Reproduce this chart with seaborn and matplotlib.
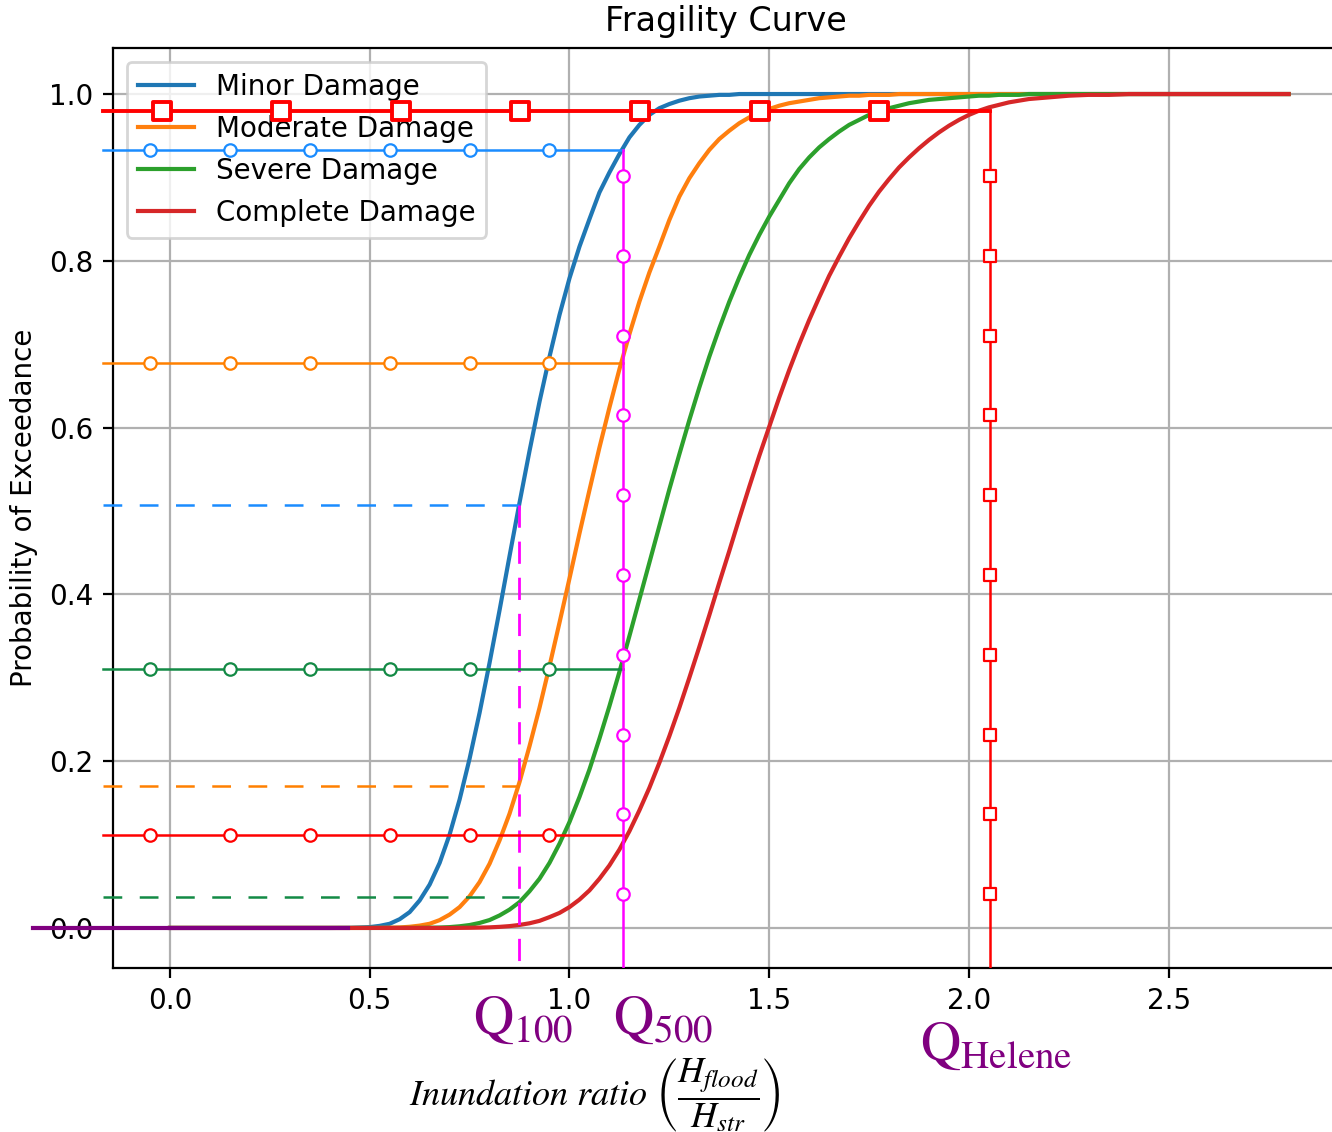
import matplotlib
matplotlib.use("Agg")
import matplotlib.pyplot as plt
import seaborn as sns

# fragility curves (probability of exceedance)

ratio = [0.0, 0.40, 0.45,
         0.500, 0.525, 0.550, 0.575, 0.600, 0.625, 0.650, 0.675, 0.700, 0.725,
         0.750, 0.775, 0.800, 0.825, 0.850, 0.875, 0.900, 0.925, 0.950, 0.975,
         1.000, 1.025, 1.050, 1.075, 1.100, 1.125, 1.150, 1.175, 1.200, 1.225,
         1.250, 1.275, 1.300, 1.325, 1.350, 1.375, 1.400, 1.425, 1.450, 1.475,
         1.500, 1.525, 1.550, 1.575, 1.600, 1.625, 1.650, 1.675, 1.700, 1.725,
         1.750, 1.775, 1.800, 1.825, 1.850, 1.875, 1.900, 1.925, 1.950, 1.975,
         2.000, 2.025, 2.050, 2.075, 2.100, 2.125, 2.150, 2.175, 2.200, 2.225,
         2.250, 2.30, 2.35, 2.40, 2.50, 2.60, 2.80]

minor = [0.0, 0.0, 0.0001,
         0.001, 0.0025, 0.005, 0.0105, 0.019, 0.033, 0.052, 0.078, 0.112, 0.154,
         0.203, 0.258, 0.318, 0.381, 0.446, 0.510, 0.572, 0.631, 0.685, 0.735,
         0.779, 0.817, 0.850, 0.882, 0.906, 0.928, 0.948, 0.963, 0.975, 0.983,
         0.988, 0.992, 0.995, 0.997, 0.998, 0.999, 0.999, 1.0, 1.0, 1.0,
         1.0, 1.0, 1.0, 1.0, 1.0, 1.0, 1.0, 1.0, 1.0, 1.0,
         1.0, 1.0, 1.0, 1.0, 1.0, 1.0, 1.0, 1.0, 1.0, 1.0,
         1.0, 1.0, 1.0, 1.0, 1.0, 1.0, 1.0, 1.0, 1.0, 1.0,
         1.0, 1.0, 1.0, 1.0, 1.0, 1.0, 1.0]

moderate = [0.0, 0.0, 0.0,
            0.0, 0.0001, 0.0003, 0.0006, 0.0014, 0.0028, 0.005, 0.0094, 0.016, 0.025,
            0.038, 0.055, 0.077, 0.105, 0.137, 0.175, 0.218, 0.264, 0.314, 0.366,
            0.419, 0.473, 0.525, 0.576, 0.624, 0.670, 0.712, 0.751, 0.786, 0.817,
            0.849, 0.877, 0.899, 0.917, 0.933, 0.946, 0.956, 0.965, 0.972, 0.978,
            0.982, 0.986, 0.989, 0.991, 0.993, 0.995, 0.996, 0.997, 0.998, 0.998,
            0.999, 0.999, 0.999, 1.0, 1.0, 1.0, 1.0, 1.0, 1.0, 1.0,
            1.0, 1.0, 1.0, 1.0, 1.0, 1.0, 1.0, 1.0, 1.0, 1.0,
            1.0, 1.0, 1.0, 1.0, 1.0, 1.0, 1.0]

severe = [0.0, 0.0, 0.0,
          0.0, 0.0, 0.0, 0.0, 0.0, 0.0001, 0.0003, 0.0005, 0.001, 0.002,
          0.0035, 0.006, 0.0095, 0.015, 0.022, 0.031, 0.044, 0.059, 0.078, 0.101,
          0.127, 0.157, 0.190, 0.227, 0.266, 0.307, 0.350, 0.394, 0.438, 0.482,
          0.526, 0.568, 0.609, 0.648, 0.685, 0.719, 0.751, 0.780, 0.807, 0.831,
          0.853, 0.873, 0.893, 0.910, 0.924, 0.936, 0.946, 0.955, 0.963, 0.969,
          0.975, 0.979, 0.983, 0.986, 0.989, 0.991, 0.993, 0.994, 0.995, 0.996,
          0.997, 0.998, 0.998, 0.999, 0.999, 0.999, 1.0, 1.0, 1.0, 1.0,
          1.0, 1.0, 1.0, 1.0, 1.0, 1.0, 1.0]

complete = [0.0, 0.0, 0.0,
            0.0, 0.0, 0.0, 0.0, 0.0, 0.0, 0.0, 0.0, 0.0, 0.0001,
            0.0002, 0.0004, 0.0007, 0.0013, 0.0022, 0.0036, 0.0056, 0.0085, 0.013, 0.018,
            0.025, 0.034, 0.045, 0.059, 0.075, 0.094, 0.116, 0.141, 0.168, 0.198,
            0.230, 0.264, 0.300, 0.337, 0.375, 0.414, 0.452, 0.491, 0.529, 0.566,
            0.601, 0.636, 0.669, 0.700, 0.729, 0.756, 0.782, 0.805, 0.827, 0.847,
            0.866, 0.883, 0.898, 0.912, 0.924, 0.935, 0.945, 0.954, 0.962, 0.969,
            0.975, 0.980, 0.984, 0.987, 0.990, 0.992, 0.994, 0.995, 0.996, 0.997,
            0.998, 0.999, 0.999, 1.0, 1.0, 1.0, 1.0]

states = ["Minor Damage", "Moderate Damage", "Severe Damage", "Complete Damage"]
curve_colors = ["#1f77b4", "#ff7f0e", "#2ca02c", "#d62728"]

# flood scenarios and the probabilities they give

q100 = 0.874
q500 = 1.134
q_helene = 2.053

p_q100 = [0.507, 0.170, 0.037]          # minor, moderate, severe
p_q500 = [0.933, 0.677, 0.311, 0.112]   # minor, moderate, severe, complete
p_helene = 0.980                        # complete

guide_colors = ["#1a8cff", "#ff8000", "#138a45", "#ff0000"]
circle_x = [-0.05, 0.15, 0.35, 0.55, 0.75, 0.95]
square_x = [-0.02, 0.278, 0.578, 0.876, 1.176, 1.477, 1.775]
vert_marks_y = [0.902, 0.806, 0.710, 0.615, 0.519, 0.423, 0.327, 0.231, 0.137, 0.041]

x_start = -0.168
y_floor = -0.048

plt.rcParams["mathtext.fontset"] = "stix"

fig = plt.figure(figsize=(6.66, 5.66), dpi=200)
ax = fig.add_axes([0.0848, 0.1449, 0.9204, 0.8127])

# fragility curves

for vals, name, col in zip([minor, moderate, severe, complete], states, curve_colors):
    sns.lineplot(x=ratio, y=vals, ax=ax, color=col, lw=1.5, label=name, zorder=3)

# purple baseline at zero
sns.lineplot(x=[-0.343, 0.446], y=[0.0, 0.0], ax=ax, color="#800080", lw=1.5,
             clip_on=False, zorder=6)

# dashed guides for Q100
for p, col in zip(p_q100, guide_colors[:3]):
    sns.lineplot(x=[x_start, q100], y=[p, p], ax=ax, color=col, lw=0.9,
                 linestyle=(0, (7.5, 7)), clip_on=False, zorder=6)
sns.lineplot(x=[q100, q100], y=[p_q100[0], y_floor], ax=ax, color="#ff00ff", lw=1.0,
             linestyle=(0, (8, 5)), estimator=None, sort=False, zorder=6)

# circle guides for Q500
for p, col in zip(p_q500, guide_colors):
    sns.lineplot(x=[x_start, q500], y=[p, p], ax=ax, color=col, lw=0.9,
                 clip_on=False, zorder=6)
    sns.scatterplot(x=circle_x, y=[p] * len(circle_x), ax=ax, marker="o", s=20,
                    facecolor="white", edgecolor=col, linewidth=0.8, zorder=7, clip_on=False)
sns.lineplot(x=[q500, q500], y=[p_q500[0], y_floor], ax=ax, color="#ff00ff", lw=0.9,
             estimator=None, sort=False, zorder=6)
sns.scatterplot(x=[q500] * len(vert_marks_y), y=vert_marks_y, ax=ax, marker="o", s=20,
                facecolor="white", edgecolor="#ff00ff", linewidth=0.8, zorder=7)

# square guides for Helene
sns.lineplot(x=[x_start, q_helene], y=[p_helene, p_helene], ax=ax, color="#ff0000", lw=1.4,
             clip_on=False, zorder=6)
sns.scatterplot(x=square_x, y=[p_helene] * len(square_x), ax=ax, marker="s", s=46,
                facecolor="white", edgecolor="#ff0000", linewidth=1.4, zorder=7, clip_on=False)
sns.lineplot(x=[q_helene, q_helene], y=[p_helene, y_floor], ax=ax, color="#ff0000", lw=0.9,
             estimator=None, sort=False, zorder=6)
sns.scatterplot(x=[q_helene] * len(vert_marks_y), y=vert_marks_y, ax=ax, marker="s", s=16,
                facecolor="white", edgecolor="#ff0000", linewidth=0.8, zorder=7)

ax.set_xlim(-0.1427, 2.926)
ax.set_ylim(-0.048, 1.0552)
ax.set_xticks([0.0, 0.5, 1.0, 1.5, 2.0, 2.5])
ax.set_yticks([0.0, 0.2, 0.4, 0.6, 0.8, 1.0])
ax.grid(True)
ax.set_axisbelow(True)
ax.set_title("Fragility Curve")
ax.set_ylabel("Probability of Exceedance")
ax.set_xlabel("")
ax.legend(loc="upper left")

# scenario labels under the axis
xt = ax.get_xaxis_transform()
ax.text(0.884, -0.073, r"$\mathrm{Q}_{\mathrm{100}}$", transform=xt, ha="center",
        va="baseline", fontsize=20, color="#800080")
ax.text(1.234, -0.073, r"$\mathrm{Q}_{\mathrm{500}}$", transform=xt, ha="center",
        va="baseline", fontsize=20, color="#800080")
ax.text(2.068, -0.101, r"$\mathrm{Q}_{\mathrm{Helene}}$", transform=xt, ha="center",
        va="baseline", fontsize=20, color="#800080")

fig.text(0.447, 0.0327, r"$Inundation\ ratio\ \left(\dfrac{H_{flood}}{H_{str}}\right)$",
         ha="center", va="center", fontsize=13)

plt.savefig("out.png", dpi=200)
